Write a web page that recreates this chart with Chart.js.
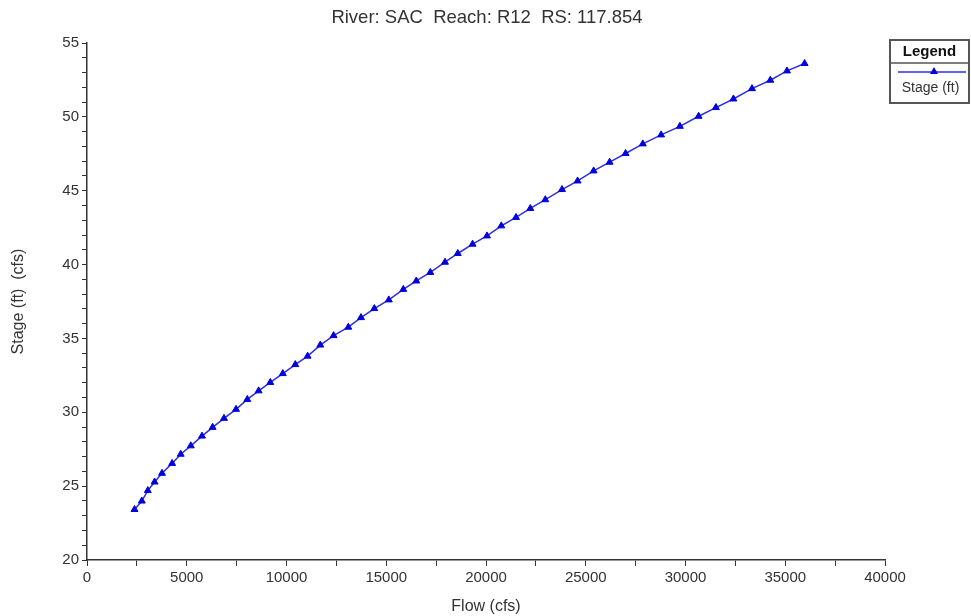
<!DOCTYPE html>
<html>
<head>
<meta charset="utf-8">
<title>Stage vs Flow</title>
<script src="https://cdn.jsdelivr.net/npm/chart.js@4.4.0/dist/chart.umd.min.js"></script>
<style>
  html, body { margin: 0; padding: 0; background: #fff; }
  #wrap { width: 971px; height: 616px; }
</style>
</head>
<body>
<div id="wrap"><canvas id="ratingCurve" width="971" height="616"></canvas></div>
<script>
// rating curve values (flow in cfs, stage in ft)
const flow = [
    2381, 2747, 3048, 3388, 3759, 4266, 4697, 5203, 5764, 6296,
    6867, 7469, 8035, 8602, 9188, 9815, 10441, 11058, 11694, 12361,
    13098, 13734, 14401, 15128, 15855, 16506, 17208, 17945, 18586, 19328,
    20050, 20767, 21504, 22221, 22972, 23810, 24592, 25394, 26196, 26997,
    27860, 28777, 29719, 30657, 31524, 32401, 33333, 34251, 35088, 35970
];
const stage = [
    23.42, 23.99, 24.70, 25.28, 25.87, 26.54, 27.16, 27.73, 28.39, 28.98,
    29.59, 30.20, 30.87, 31.45, 32.02, 32.62, 33.23, 33.80, 34.55, 35.19,
    35.76, 36.41, 37.02, 37.61, 38.32, 38.89, 39.47, 40.16, 40.75, 41.38,
    41.94, 42.62, 43.19, 43.80, 44.39, 45.08, 45.66, 46.34, 46.93, 47.52,
    48.17, 48.78, 49.36, 50.04, 50.63, 51.21, 51.91, 52.48, 53.11, 53.61
];
const xLabels = [0, 5000, 10000, 15000, 20000, 25000, 30000, 35000, 40000];
const yLabels = [20, 25, 30, 35, 40, 45, 50, 55];
const chartTitle = 'River: SAC  Reach: R12  RS: 117.854';

const LINE_COLOR = '#2f2fe6';
const MARK_COLOR = '#0000dd';
const TEXT_COLOR = '#333';
const FONT = '"Liberation Sans", Arial, sans-serif';

// title centred on the whole canvas, not just the plot area
const pageTitle = {
    id: 'pageTitle',
    afterDraw(chart) {
        const ctx = chart.ctx;
        ctx.save();
        ctx.fillStyle = TEXT_COLOR;
        ctx.font = '18.5px ' + FONT;
        ctx.textAlign = 'center';
        ctx.textBaseline = 'middle';
        ctx.fillText(chartTitle, 487, 18);
        ctx.restore();
    }
};

// boxed legend in the top right corner
const legendBox = {
    id: 'legendBox',
    afterDraw(chart) {
        const ctx = chart.ctx;
        const ds = chart.data.datasets[0];
        const x = 890, y = 40, w = 79, h = 63;
        ctx.save();
        ctx.fillStyle = '#fff';
        ctx.fillRect(x, y, w, h);
        ctx.strokeStyle = '#555';
        ctx.lineWidth = 2;
        ctx.strokeRect(x, y, w, h);
        ctx.beginPath();
        ctx.moveTo(x, y + 23);
        ctx.lineTo(x + w, y + 23);
        ctx.lineWidth = 1.5;
        ctx.stroke();

        ctx.fillStyle = '#111';
        ctx.textAlign = 'center';
        ctx.textBaseline = 'middle';
        ctx.font = 'bold 15px ' + FONT;
        ctx.fillText('Legend', x + w / 2, y + 12);

        // sample line + marker
        ctx.strokeStyle = ds.borderColor;
        ctx.lineWidth = 1.5;
        ctx.beginPath();
        ctx.moveTo(x + 8, y + 32);
        ctx.lineTo(x + w - 3, y + 32);
        ctx.stroke();
        const cx = x + 44, cy = y + 31, r = 4;
        ctx.fillStyle = ds.pointBackgroundColor;
        ctx.beginPath();
        ctx.moveTo(cx, cy - r);
        ctx.lineTo(cx + r, cy + r * 0.75);
        ctx.lineTo(cx - r, cy + r * 0.75);
        ctx.closePath();
        ctx.fill();

        ctx.fillStyle = TEXT_COLOR;
        ctx.font = '14px ' + FONT;
        ctx.fillText(ds.label, x + w / 2 + 1, y + 48);
        ctx.restore();
    }
};

new Chart(document.getElementById('ratingCurve').getContext('2d'), {
    type: 'line',
    data: {
        datasets: [{
            label: 'Stage (ft)',
            data: flow.map((f, i) => ({ x: f, y: stage[i] })),
            borderColor: LINE_COLOR,
            borderWidth: 1.5,
            pointStyle: 'triangle',
            pointRadius: 4,
            pointBackgroundColor: MARK_COLOR,
            pointBorderColor: MARK_COLOR,
            pointBorderWidth: 1,
            tension: 0,
            fill: false
        }]
    },
    options: {
        responsive: false,
        animation: false,
        layout: { padding: { top: 43, right: 86, left: 0, bottom: 0 } },
        plugins: {
            legend: { display: false },
            tooltip: { enabled: false },
            title: { display: false }
        },
        scales: {
            x: {
                type: 'linear',
                min: 0, max: 40000,
                afterFit: s => { s.height = 56; },
                border: { color: '#333', width: 1.5 },
                grid: { drawOnChartArea: false, tickLength: 6, tickColor: '#333' },
                ticks: {
                    stepSize: 2500, autoSkip: false, maxRotation: 0, padding: 3,
                    color: TEXT_COLOR, font: { family: FONT, size: 15 },
                    callback: v => xLabels.includes(v) ? String(v) : ''
                },
                title: {
                    display: true, text: 'Flow (cfs)', color: TEXT_COLOR,
                    font: { family: FONT, size: 16 }, padding: { top: 0, bottom: 0 }
                }
            },
            y: {
                min: 20, max: 55,
                afterFit: s => { s.width = 87; },
                border: { color: '#333', width: 1.5 },
                grid: { drawOnChartArea: false, tickLength: 5, tickColor: '#333' },
                ticks: {
                    stepSize: 1, autoSkip: false, padding: 3,
                    color: TEXT_COLOR, font: { family: FONT, size: 15 },
                    callback: v => yLabels.includes(v) ? String(v) : ''
                },
                title: {
                    display: true, text: 'Stage (ft)  (cfs)', color: TEXT_COLOR,
                    font: { family: FONT, size: 16 }, padding: { top: 9, bottom: 0 }
                }
            }
        }
    },
    plugins: [pageTitle, legendBox]
});
</script>
</body>
</html>
